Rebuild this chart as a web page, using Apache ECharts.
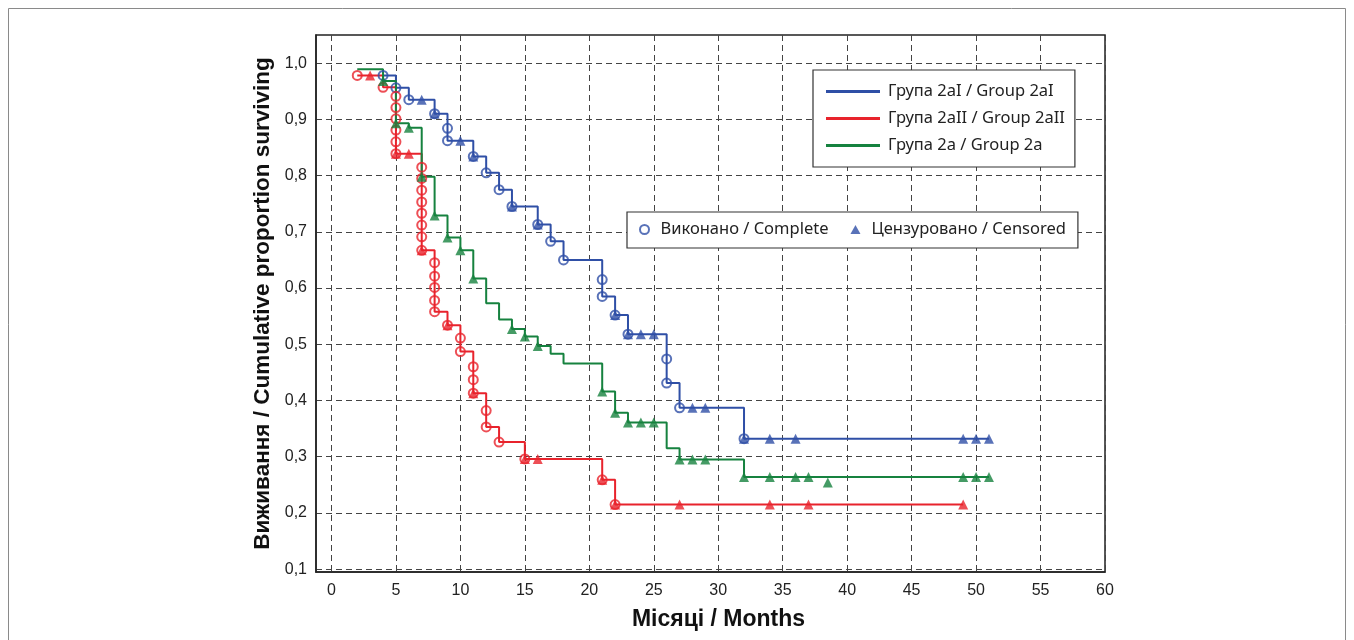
<!DOCTYPE html>
<html><head><meta charset="utf-8">
<script src="https://cdn.jsdelivr.net/npm/echarts@6/dist/echarts.min.js"></script>
<style>html,body{margin:0;padding:0;background:#fff}#c{width:1354px;height:640px}</style>
</head><body><div id="c"></div>
<script>
// ---- data ----
const xTicks = [0,5,10,15,20,25,30,35,40,45,50,55,60];
const yTicks = [0.1,0.2,0.3,0.4,0.5,0.6,0.7,0.8,0.9,1.0];

const groupNames = ['Група 2aI / Group 2aI','Група 2aII / Group 2aII','Група 2a / Group 2a'];
const markerNames = ['Виконано / Complete','Цензуровано / Censored'];

// step curves [month, survival]
const blueCurve = [[4,0.978],[5,0.956],[6,0.935],[8,0.910],[9,0.862],[11,0.834],[12,0.805],[13,0.775],[14,0.745],[16,0.713],[17,0.683],[18,0.650],[21,0.585],[22,0.552],[23,0.518],[26,0.431],[27,0.387],[32,0.332],[51,0.332]];
const redCurve = [[2,0.978],[4,0.957],[5,0.839],[7,0.667],[8,0.558],[9,0.534],[10,0.487],[11,0.413],[12,0.353],[13,0.326],[15,0.296],[21,0.259],[22,0.215],[49,0.215]];
const greenCurve = [[2,0.989],[4,0.968],[5,0.893],[6,0.885],[7,0.798],[8,0.729],[9,0.690],[10,0.667],[11,0.617],[12,0.573],[13,0.544],[14,0.527],[15,0.514],[16,0.497],[17,0.483],[18,0.466],[21,0.416],[22,0.378],[23,0.361],[26,0.315],[27,0.295],[32,0.264],[51,0.264]];

// complete (events)
const blueComplete = [[4,0.978],[5,0.956],[6,0.935],[8,0.910],[9,0.884],[9,0.862],[11,0.834],[12,0.805],[13,0.775],[14,0.745],[16,0.713],[17,0.683],[18,0.650],[21,0.615],[21,0.585],[22,0.552],[23,0.518],[26,0.474],[26,0.431],[27,0.387],[32,0.332]];
const redComplete = [[2,0.978],[4,0.957],[5,0.941],[5,0.921],[5,0.901],[5,0.881],[5,0.860],[5,0.839],[7,0.815],[7,0.795],[7,0.774],[7,0.753],[7,0.733],[7,0.712],[7,0.691],[7,0.667],[8,0.645],[8,0.621],[8,0.601],[8,0.578],[8,0.558],[9,0.534],[10,0.511],[10,0.487],[11,0.460],[11,0.437],[11,0.413],[12,0.382],[12,0.353],[13,0.326],[15,0.296],[21,0.259],[22,0.215]];

// censored
const blueCensored = [[7,0.935],[8,0.910],[10,0.862],[11,0.834],[14,0.745],[16,0.713],[22,0.552],[23,0.518],[24,0.518],[25,0.518],[28,0.387],[29,0.387],[32,0.332],[34,0.332],[36,0.332],[49,0.332],[50,0.332],[51,0.332]];
const redCensored = [[3,0.978],[5,0.839],[6,0.839],[7,0.667],[9,0.534],[11,0.413],[15,0.296],[16,0.296],[21,0.259],[22,0.215],[27,0.215],[34,0.215],[37,0.215],[49,0.215]];
const greenCensored = [[4,0.968],[5,0.893],[6,0.885],[7,0.798],[8,0.729],[9,0.690],[10,0.667],[11,0.617],[14,0.527],[15,0.514],[16,0.497],[21,0.416],[22,0.378],[23,0.361],[24,0.361],[25,0.361],[27,0.295],[28,0.295],[29,0.295],[32,0.264],[34,0.264],[36,0.264],[37,0.264],[38.5,0.254],[49,0.264],[50,0.264],[51,0.264]];

// ---- styles ----
const BLUE = '#2f4fa6', RED = '#e8232c', GREEN = '#16823f';
const fmt = v => (Math.round(v*10)/10).toFixed(1).replace('.', ',');
const TICKFONT = "'Liberation Sans', sans-serif";

function lineSeries(name, data, color) {
  return { name, type: 'line', step: 'end', data, showSymbol: false, symbol: 'none',
    lineStyle: { color, width: 2 }, itemStyle: { color }, z: 2, silent: true };
}
function circleSeries(data, color) {
  return { name: markerNames[0], type: 'scatter', data, symbol: 'circle', symbolSize: 9,
    itemStyle: { color: 'rgba(255,255,255,0)', borderColor: color, borderWidth: 2 }, z: 3, silent: true };
}
function triSeries(data, color) {
  return { name: markerNames[1], type: 'scatter', data, symbol: 'triangle', symbolSize: 10,
    itemStyle: { color }, z: 4, silent: true };
}

const chart = echarts.init(document.getElementById('c'), null, { renderer: 'canvas' });
chart.setOption({
  animation: false,
  backgroundColor: '#fff',
  graphic: [{ type: 'rect', shape: { x: 8.5, y: 8.5, width: 1337, height: 660 },
    style: { fill: 'none', stroke: '#8a8a8a', lineWidth: 1 }, silent: true }],
  grid: { left: 316, top: 35, right: 249, bottom: 68, show: true, borderColor: '#222', borderWidth: 1.5, backgroundColor: 'transparent' },
  xAxis: {
    type: 'value', min: -1.2, max: 60,
    name: 'Місяці / Months', nameLocation: 'middle', nameGap: 36,
    nameTextStyle: { fontFamily: 'Liberation Sans', fontWeight: 'bold', fontSize: 23, color: '#111', padding: [0,0,0,16] },
    axisLine: { show: true, onZero: false, lineStyle: { color: '#222', width: 1.5 } },
    axisTick: { show: false, customValues: xTicks },
    axisLabel: { customValues: xTicks, fontFamily: TICKFONT, fontSize: 16, color: '#222', margin: 11 },
    splitLine: { show: true, lineStyle: { color: '#444', type: [6,4], width: 1 } }
  },
  yAxis: {
    type: 'value', min: 0.095, max: 1.05,
    name: 'Виживання / Cumulative proportion surviving', nameLocation: 'middle', nameGap: 37,
    nameTextStyle: { fontFamily: 'Liberation Sans', fontWeight: 'bold', fontSize: 22.5, color: '#111' },
    axisLine: { show: true, onZero: false, lineStyle: { color: '#222', width: 1.5 } },
    axisTick: { show: false, customValues: yTicks },
    axisLabel: { customValues: yTicks, formatter: fmt, fontFamily: TICKFONT, fontSize: 16, color: '#222', margin: 9 },
    splitLine: { show: true, lineStyle: { color: '#444', type: [6,4], width: 1 } }
  },
  legend: [
    { data: groupNames, orient: 'vertical', left: 813, top: 70,
      padding: [13, 10, 13, 13], itemGap: 10, itemWidth: 54, itemHeight: 3, icon: 'rect',
      backgroundColor: '#fff', borderColor: '#333', borderWidth: 1.2,
      textStyle: { fontFamily: 'Noto Sans', fontSize: 16.5, color: '#222', padding: [0,0,0,3] }, selectedMode: false },
    { data: markerNames, orient: 'horizontal', left: 627, top: 212,
      padding: [9, 12, 10, 12], itemGap: 22, itemWidth: 10, itemHeight: 9,
      backgroundColor: '#fff', borderColor: '#333', borderWidth: 1.2,
      textStyle: { fontFamily: 'Noto Sans', fontSize: 16.5, color: '#222', padding: [0,0,0,6] }, selectedMode: false }
  ],
  series: [
    lineSeries(groupNames[0], blueCurve, BLUE),
    lineSeries(groupNames[1], redCurve, RED),
    lineSeries(groupNames[2], greenCurve, GREEN),
    circleSeries(blueComplete, BLUE),
    circleSeries(redComplete, RED),
    triSeries(blueCensored, BLUE),
    triSeries(redCensored, RED),
    triSeries(greenCensored, GREEN)
  ]
});
</script></body></html>
